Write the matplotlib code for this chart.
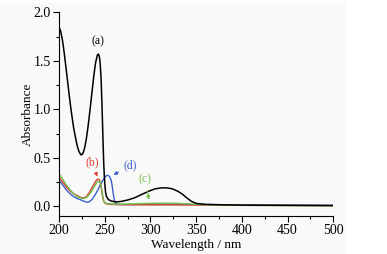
import numpy as np
import matplotlib
matplotlib.use('Agg')
import matplotlib.pyplot as plt
from matplotlib.patches import Rectangle

plt.rcParams['font.family'] = ['Liberation Serif', 'DejaVu Serif']
plt.rcParams['font.size'] = 9

# (a) black
wl_a = [200, 202, 204, 206, 208, 210, 212, 214, 216, 218, 220, 222, 224, 226, 228,
        230, 232, 234, 236, 238, 240, 242, 243, 244, 245, 246, 247, 248, 249, 250,
        251, 252, 254, 257, 262, 268, 275, 282, 290, 298, 305, 312, 318, 324, 330,
        335, 340, 345, 350, 360, 380, 400, 450, 500]
abs_a = [1.85, 1.80, 1.70, 1.56, 1.40, 1.24, 1.08, 0.94, 0.81, 0.71, 0.62, 0.56, 0.53, 0.54, 0.60,
         0.70, 0.84, 1.00, 1.17, 1.34, 1.48, 1.56, 1.57, 1.55, 1.48, 1.32, 1.05, 0.72, 0.42, 0.24,
         0.14, 0.10, 0.07, 0.055, 0.045, 0.05, 0.065, 0.085, 0.12, 0.155, 0.18, 0.19, 0.19, 0.18, 0.155,
         0.125, 0.085, 0.05, 0.03, 0.02, 0.015, 0.012, 0.01, 0.008]

# (b) red
wl_b = [200, 204, 208, 212, 216, 220, 224, 227, 230, 233, 236, 239, 241, 243, 244, 245,
        246, 247, 248, 249, 250, 252, 256, 262, 270, 290, 320, 350, 400, 450, 500]
abs_b = [0.30, 0.25, 0.20, 0.16, 0.13, 0.11, 0.09, 0.085, 0.10, 0.14, 0.19, 0.24, 0.27, 0.28, 0.275, 0.25,
         0.20, 0.14, 0.08, 0.05, 0.035, 0.025, 0.02, 0.018, 0.016, 0.015, 0.015, 0.013, 0.01, 0.008, 0.006]

# (c) green
wl_c = [200, 204, 208, 212, 216, 220, 224, 227, 230, 233, 236, 239, 242, 244, 245, 246,
        247, 248, 249, 250, 252, 256, 262, 270, 280, 290, 300, 310, 320, 330, 340, 350,
        360, 380, 400, 450, 500]
abs_c = [0.34, 0.28, 0.22, 0.17, 0.13, 0.10, 0.085, 0.08, 0.09, 0.12, 0.16, 0.21, 0.25, 0.26, 0.25, 0.22,
         0.16, 0.10, 0.06, 0.04, 0.03, 0.025, 0.022, 0.022, 0.025, 0.028, 0.03, 0.032, 0.032, 0.03, 0.026, 0.02,
         0.016, 0.012, 0.01, 0.008, 0.006]

# (d) blue
wl_d = [200, 204, 208, 212, 216, 220, 224, 228, 231, 233, 236, 239, 242, 245, 248, 251,
        253, 255, 257, 258, 259, 260, 261, 262, 264, 268, 275, 290, 320, 350, 400, 450, 500]
abs_d = [0.27, 0.22, 0.17, 0.13, 0.10, 0.08, 0.065, 0.05, 0.042, 0.045, 0.07, 0.11, 0.16, 0.22, 0.27, 0.31,
         0.32, 0.31, 0.27, 0.22, 0.15, 0.09, 0.05, 0.03, 0.02, 0.018, 0.018, 0.02, 0.02, 0.018, 0.015, 0.012, 0.01]

fig = plt.figure(figsize=(3.87, 2.54), dpi=100)
fig.patch.set_facecolor('white')
fig.patches.append(Rectangle((0, 0), 346 / 387, 251 / 254, transform=fig.transFigure,
                             facecolor='#f9f9f9', edgecolor='none', zorder=-1))
ax = fig.add_axes([59 / 387, 1 - 216 / 254, (333.3 - 59) / 387, (216 - 12.3) / 254])
ax.set_facecolor('none')

ax.plot(wl_d, abs_d, color='#3a5fc8', lw=1.0)
ax.plot(wl_b, abs_b, color='#e03c31', lw=1.0)
ax.plot(wl_c, abs_c, color='#6fbf4a', lw=1.0)
ax.plot(wl_a, abs_a, color='black', lw=1.1)

ax.set_xlim(200, 500)
ax.set_ylim(-0.1, 2.0)
ax.set_xticks(np.arange(200, 501, 50))
ax.set_xticks(np.arange(225, 500, 50), minor=True)
ax.set_yticks([0.0, 0.5, 1.0, 1.5, 2.0])
ax.set_yticks([0.25, 0.75, 1.25, 1.75], minor=True)
ax.set_yticklabels(['0.0', '0.5', '1.0', '1.5', '2.0'])
ax.tick_params(direction='out', length=4, width=0.8, pad=2, labelsize=10)
ax.tick_params(which='minor', direction='out', length=2.5, width=0.8)
for s in ['top', 'right']:
    ax.spines[s].set_visible(False)
for s in ['left', 'bottom']:
    ax.spines[s].set_linewidth(0.8)

ax.set_xlabel('Wavelength / nm', fontsize=9.5, labelpad=1)
ax.set_ylabel('Absorbance', fontsize=9.5, labelpad=0)

ax.text(243, 1.64, '(a)', fontsize=8.5, ha='center', va='bottom')
ax.annotate('(b)', xy=(243, 0.28), xytext=(236, 0.45), color='#e03c31', fontsize=8.5,
            ha='center', va='center',
            arrowprops=dict(arrowstyle='-|>', color='#e03c31', lw=0.8, mutation_scale=5))
ax.annotate('(d)', xy=(257, 0.31), xytext=(278, 0.42), color='#3a5fc8', fontsize=8.5,
            ha='center', va='center',
            arrowprops=dict(arrowstyle='-|>', color='#3a5fc8', lw=0.8, mutation_scale=5))
ax.annotate('(c)', xy=(299, 0.04), xytext=(294, 0.28), color='#6fbf4a', fontsize=8.5,
            ha='center', va='center',
            arrowprops=dict(arrowstyle='-|>', color='#6fbf4a', lw=0.8, mutation_scale=5))

fig.savefig('out.png', dpi=100)
